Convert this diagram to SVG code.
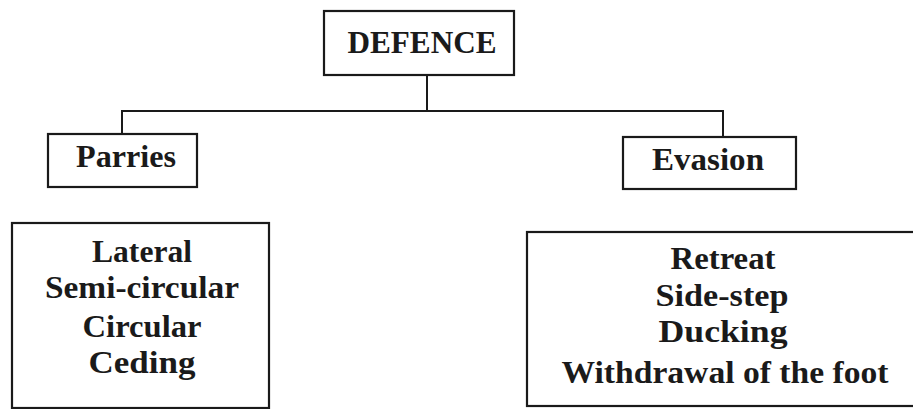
<svg xmlns="http://www.w3.org/2000/svg" width="913" height="409" viewBox="0 0 913 409">
<style>
.box{fill:#fff;stroke:#1a1a1a;stroke-width:2.2}
.t{font-family:"Liberation Serif","Times New Roman",serif;font-weight:bold;font-size:32px;fill:#1a1a1a;text-anchor:middle}
.c{fill:none;stroke:#1a1a1a;stroke-width:2}
</style>
<rect width="913" height="409" fill="#fff"/>
<g id="connectors">
<path class="c" d="M427 75 V111"/>
<path class="c" d="M122 134 V111 H723 V137"/>
</g>
<g id="defence">
<rect class="box" x="324" y="11" width="190" height="64"/>
<text class="t" x="422" y="53" textLength="149" lengthAdjust="spacingAndGlyphs">DEFENCE</text>
</g>
<g id="parries">
<rect class="box" x="48" y="134" width="149" height="53"/>
<text class="t" x="126" y="167" textLength="100" lengthAdjust="spacingAndGlyphs">Parries</text>
</g>
<g id="evasion">
<rect class="box" x="623" y="137" width="173" height="52"/>
<text class="t" x="708" y="170" textLength="112" lengthAdjust="spacingAndGlyphs">Evasion</text>
</g>
<g id="parries-list">
<rect class="box" x="12" y="223" width="257" height="185"/>
<text class="t" x="142" y="262" textLength="100" lengthAdjust="spacingAndGlyphs">Lateral</text>
<text class="t" x="142" y="298" textLength="194" lengthAdjust="spacingAndGlyphs">Semi-circular</text>
<text class="t" x="142" y="337" textLength="119" lengthAdjust="spacingAndGlyphs">Circular</text>
<text class="t" x="142" y="373" textLength="107" lengthAdjust="spacingAndGlyphs">Ceding</text>
</g>
<g id="evasion-list">
<rect class="box" x="527" y="232" width="400" height="174"/>
<text class="t" x="723" y="269" textLength="105" lengthAdjust="spacingAndGlyphs">Retreat</text>
<text class="t" x="722" y="306" textLength="133" lengthAdjust="spacingAndGlyphs">Side-step</text>
<text class="t" x="723" y="342" textLength="129" lengthAdjust="spacingAndGlyphs">Ducking</text>
<text class="t" x="725" y="383" textLength="327" lengthAdjust="spacingAndGlyphs">Withdrawal of the foot</text>
</g>
</svg>
